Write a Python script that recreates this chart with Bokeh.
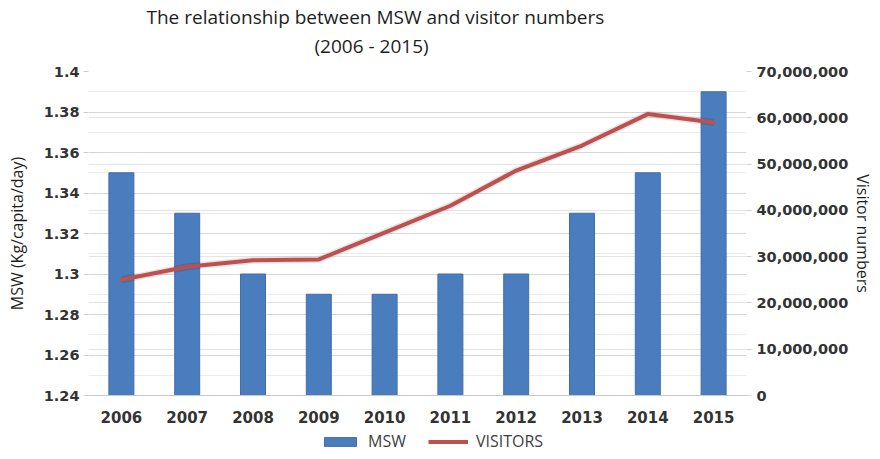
from bokeh.plotting import figure
from bokeh.layouts import column
from bokeh.models import (Range1d, LinearAxis, FactorRange, FixedTicker, NumeralTickFormatter,
                          CustomJSTickFormatter, Legend, LegendItem, Grid, ColumnDataSource, Title)
from bokeh.embed import file_html
from bokeh.resources import INLINE

years = ["2006", "2007", "2008", "2009", "2010", "2011", "2012", "2013", "2014", "2015"]
msw = [1.35, 1.33, 1.30, 1.29, 1.29, 1.30, 1.30, 1.33, 1.35, 1.39]
visitors = [25.0e6, 27.8e6, 29.2e6, 29.4e6, 35.2e6, 41.0e6, 48.6e6, 54.0e6, 60.8e6, 59.0e6]

msw_ticks = [1.24, 1.26, 1.28, 1.30, 1.32, 1.34, 1.36, 1.38, 1.40]
msw_minor = [1.25, 1.27, 1.29, 1.31, 1.33, 1.35, 1.37, 1.39]
visitor_ticks = [0, 10e6, 20e6, 30e6, 40e6, 50e6, 60e6, 70e6]

title_line1 = "The relationship between MSW and visitor numbers"
title_line2 = "(2006 - 2015)"
left_label = "MSW (Kg/capita/day)"
right_label = "Visitor numbers"
series_names = ["MSW", "VISITORS"]

src = ColumnDataSource(data=dict(year=years, msw=msw, visitors=visitors))

BAR_FILL = "#4a7dbd"
BAR_LINE = "#3f6fab"
LINE_COLOR = "#c0504d"

p = figure(width=880, height=430, title=None,
           x_range=FactorRange(factors=years, range_padding=0),
           y_range=Range1d(msw_ticks[0], msw_ticks[-1]),
           output_backend="svg", toolbar_location=None,
           min_border_left=88, min_border_right=134, min_border_top=71, min_border_bottom=35)
p.outline_line_color = None
p.background_fill_color = "white"
p.border_fill_color = "white"

tstyle = dict(align="left", text_font="Open Sans", text_font_size="19px",
              text_font_style="normal", text_color="#1e1e1e")
p.add_layout(Title(text=title_line2, offset=226, standoff=25, **tstyle), "above")
t1 = Title(text=title_line1, offset=58, standoff=0, **tstyle)
try:
    t1.standoff = -22
except Exception:
    t1.standoff = 0
p.add_layout(t1, "above")

tick_font = "DejaVu Sans"

# left axis
la = p.yaxis[0]
la.ticker = FixedTicker(ticks=msw_ticks, minor_ticks=msw_minor)
la.formatter = CustomJSTickFormatter(code="return String(Number(tick.toFixed(2)));")
la.axis_line_color = None
la.major_tick_out = 5
la.major_tick_in = 0
la.minor_tick_out = 0
la.minor_tick_in = 0
la.major_tick_line_color = "#d0d0d0"
la.major_label_standoff = 4
la.major_label_text_font = tick_font
la.major_label_text_font_style = "bold"
la.major_label_text_font_size = "14.5px"
la.major_label_text_color = "#333333"
la.axis_label = left_label
la.axis_label_standoff = 13
la.axis_label_text_font = "Open Sans"
la.axis_label_text_font_style = "normal"
la.axis_label_text_font_size = "16px"
la.axis_label_text_color = "#1e1e1e"

# x axis
xa = p.xaxis[0]
xa.axis_line_color = "#c8c8c8"
xa.major_tick_out = 0
xa.major_tick_in = 0
xa.major_label_standoff = 15
xa.major_label_text_font = tick_font
xa.major_label_text_font_style = "bold"
xa.major_label_text_font_size = "15px"
xa.major_label_text_color = "#333333"

p.xgrid.grid_line_color = None
g = p.ygrid[0]
g.ticker = la.ticker
g.grid_line_color = "#d6d6d6"
g.minor_grid_line_color = "#ececec"

# right axis
p.extra_y_ranges = {"vis": Range1d(visitor_ticks[0], visitor_ticks[-1])}
ra = LinearAxis(y_range_name="vis", ticker=FixedTicker(ticks=visitor_ticks),
                formatter=NumeralTickFormatter(format="0,0"))
ra.axis_line_color = None
ra.major_tick_out = 5
ra.major_tick_in = 0
ra.minor_tick_out = 0
ra.minor_tick_in = 0
ra.major_tick_line_color = "#d0d0d0"
ra.major_label_standoff = 5
ra.major_label_text_font = tick_font
ra.major_label_text_font_style = "bold"
ra.major_label_text_font_size = "14.5px"
ra.major_label_text_color = "#333333"
ra.axis_label = right_label
ra.axis_label_standoff = 1
ra.axis_label_text_font = "Open Sans"
ra.axis_label_text_font_style = "normal"
ra.axis_label_text_font_size = "16px"
ra.axis_label_text_color = "#1e1e1e"
p.add_layout(ra, "right")

rg = Grid(dimension=1, y_range_name="vis", ticker=ra.ticker, grid_line_color="#e4e4e4")
p.add_layout(rg)

bars = p.vbar(x="year", top="msw", bottom=msw_ticks[0], width=0.38, source=src,
              fill_color=BAR_FILL, line_color=BAR_LINE, line_width=1)
shadow = p.line(x="year", y="visitors", y_range_name="vis", source=src,
                line_color="#000000", line_alpha=0.10, line_width=7)
line = p.line(x="year", y="visitors", y_range_name="vis", source=src,
              line_color=LINE_COLOR, line_width=4, line_join="round", line_cap="round")

# legend strip below the chart (same series, kept out of view; only the legend shows)
lf = figure(width=880, height=29, title=None, x_range=FactorRange(factors=years),
            y_range=Range1d(100, 101), output_backend="svg", toolbar_location=None,
            min_border=0, x_axis_location=None, y_axis_location=None)
lf.extra_y_ranges = {"vis": Range1d(1e10, 2e10)}
lf.outline_line_color = None
lf.grid.visible = False
lf.border_fill_color = "white"
lb = lf.vbar(x="year", top="msw", bottom=msw_ticks[0], width=0.38, source=src,
             fill_color=BAR_FILL, line_color=BAR_LINE, line_width=1)
ll = lf.line(x="year", y="visitors", y_range_name="vis", source=src,
             line_color=LINE_COLOR, line_width=4)
legend = Legend(items=[LegendItem(label=series_names[0], renderers=[lb]),
                       LegendItem(label=series_names[1], renderers=[ll])],
                orientation="horizontal", location=(232, 7),
                border_line_color=None, background_fill_alpha=0,
                glyph_width=40, glyph_height=11, label_text_font="Open Sans",
                label_text_font_size="16px", label_text_color="#404040",
                padding=0, margin=0, spacing=22, label_standoff=8, label_height=18)
lf.add_layout(legend)

layout = column(p, lf, spacing=0)
open("out.html", "w").write(file_html(layout, INLINE))
